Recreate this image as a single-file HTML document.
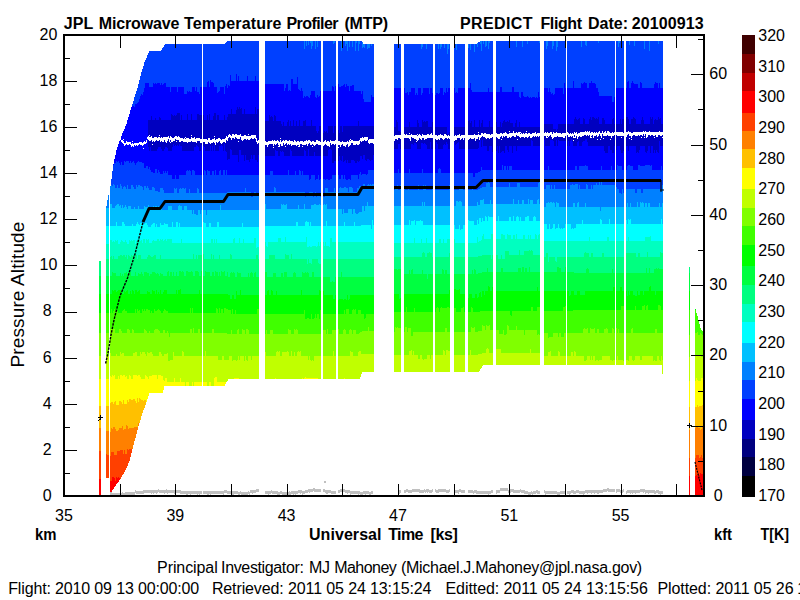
<!DOCTYPE html>
<html><head><meta charset="utf-8"><title>MTP</title>
<style>
html,body{margin:0;padding:0;background:#fff;}
body{width:800px;height:600px;overflow:hidden;font-family:"Liberation Sans",sans-serif;}
svg{display:block;}
svg text{font-family:"Liberation Sans",sans-serif;fill:#000;}
</style></head><body>
<svg width="800" height="600" viewBox="0 0 800 600">
<rect width="800" height="600" fill="#fff"/>
<g shape-rendering="crispEdges">
<path fill="#0040ff" d="M99,261h2V495h-2ZM106,206h1v-6h1v-5h1V478h-3ZM110,186h1v-7h1v-8h1v-7h1v-5h1v-4h1v-5h1v-3h1v-3h1v-3h1v-3h1v-2h1v-3h1v-2h1v-2h1v-3h1v-2h1v-4h1v-3h1v-3h1v-4h1v-3h1v-3h1v-3h1v-4h1v-3h1v-3h1v-3h1v-4h1v-4h1v-4h1v-4h1v-3h1v-3h1v-4h1v-2h1v-2h1v-3h1v-2h1v-2h12v-1h1v-2h1v-1h1v-2h1v-1h60v-1h1v-1h1v-1h135v1h1v2h11V372h-12v2h-1v3h-1v2h-132v2h-1v1h-1v2h-1v2h-61v4h-1v3h-14v3h-1v3h-1v3h-1v3h-1v3h-1v2h-1v3h-1v3h-1v4h-1v3h-1v3h-1v4h-1v4h-1v4h-1v3h-1v4h-1v4h-1v4h-1v4h-1v4h-1v2h-1v3h-1v2h-1v2h-1v2h-1v2h-1v1h-1v2h-1v2h-1v1h-1v2h-1v1h-1v1h-1v2h-1v1h-1v2h-1v1h-1v2h-1v3h-1ZM394,44h83v-1h1v-1h2v-1h183V374h-1v-9h-179v1h-1v2h-1v1h-1v2h-1v1h-85ZM689,267h1V495h-1ZM695,309h1v4h1v3h1v4h1v4h1v4h1v2h1v1h1v2h1V495h-9Z"/>
<path fill="#0000ff" d="M99,261h2V495h-2ZM106,206h1v-6h1v-5h1V478h-3ZM110,186h1v-7h1v-8h1v-7h1v-5h1v-4h1v-5h1v-3h1v-3h1v-3h1v-3h1v-2h1v-3h1v-2h1v-2h1v-3h1v-2h1v-4h1v-3h1v-3h1v-4h1v-3h1v-1h2v1h1v-3h2v-1h1v-1h1v-3h1v-3h1v-2h1v1h1v-3h1v-4h1v-5h4v4h4v-4h1v1h1v-1h1v1h1v-1h3v2h1v-2h1v2h1v-1h1v-1h2v4h4v5h1v-5h6v5h1v-5h6v7h3v-3h1v1h1v-1h1v1h2v-5h3v4h1v-4h1v5h2v2h1v-7h7v-5h1v-1h1v6h1v-7h1v2h2v1h1v4h3v6h1v-1h1v-1h1v-4h4v7h1v-8h1v-2h1v4h1v-3h1v1h1v-11h1v6h5v-7h1v7h1v-5h1v5h8v-5h1v5h7v-5h1v5h4v1h2v1h2v1h20v7h1v-3h1v-4h2v7h1v-1h1v1h1v-12h2v5h4v-7h1v12h1v1h1v1h1v-3h1v3h1v7h1v-2h1v1h1v-1h2v1h1v1h1v-3h1v-4h4v6h1v1h1v-3h1v2h1v-1h1v-5h12v-5h1v1h1v4h1v-5h1v-2h1v2h1v-2h1v3h2v-1h2v-1h1v-1h1v3h1v-3h1v2h2v5h1v-5h2v-1h2v6h7v3h1v-3h1v8h1v3h7v-7h1v2h2V372h-12v2h-1v3h-1v2h-132v2h-1v1h-1v2h-1v2h-61v4h-1v3h-14v3h-1v3h-1v3h-1v3h-1v3h-1v2h-1v3h-1v3h-1v4h-1v3h-1v3h-1v4h-1v4h-1v4h-1v3h-1v4h-1v4h-1v4h-1v4h-1v4h-1v2h-1v3h-1v2h-1v2h-1v2h-1v2h-1v1h-1v2h-1v2h-1v1h-1v2h-1v1h-1v1h-1v2h-1v1h-1v2h-1v1h-1v2h-1v3h-1ZM394,88h11v5h2v-1h1v3h1v-3h2v-4h4v7h1v-2h1v2h1v-7h3v7h1v-2h1v-5h6v6h1v-6h2v5h1v-1h1v1h1v2h1v-2h2v1h1v-1h1v-5h3v7h1v-3h1v1h1v-5h1v4h1v-4h7v5h1v-1h1v1h1v-5h8v-6h1v6h3v-5h1v7h1v2h16v-4h1v4h11v-5h2v5h10v-5h2v5h5v5h1v1h1v-6h2v4h1v1h3v-1h1v1h1v1h1v-1h1v1h1v-1h3v1h1v-1h1v1h1v-6h1v5h3v-7h1v-1h1v-1h4v4h1v-4h1v4h1v2h1v-1h1v2h1v-1h1v-6h8v6h1v-11h1v5h8v-7h1v7h7v-5h1v1h1v-1h1v-1h1v1h2v5h2v-5h2v-2h1v2h3v1h1v4h2v4h1v4h13v6h2v-5h1v-5h1v-4h11v-6h1v-1h1v7h2v-5h1v-2h1v2h1v1h4v4h2v-6h1v1h1v5h12v-4h1v-2h1v1h2v5h1v-5h1v5h3V374h-1v-9h-179v1h-1v2h-1v1h-1v2h-1v1h-85ZM689,267h1V495h-1ZM695,309h1v4h1v3h1v4h1v4h1v4h1v2h1v1h1v2h1V495h-9Z"/>
<path fill="#0000c0" d="M99,261h2V495h-2ZM106,206h1v-6h1v-5h1V478h-3ZM110,186h1v-7h1v-8h1v-7h1v-5h1v-4h1v-5h32v-30h3v-4h1v4h3v-2h1v2h3v-3h1v1h1v2h10v-6h1v1h1v1h1v-1h1v1h1v-1h1v-2h3v7h1v-5h1v5h5v-6h1v6h3v-6h1v6h5v-6h2v1h5v5h3v-5h1v5h1v-6h1v6h3v-4h1v-3h2v7h1v-5h2v5h5v-5h1v5h2v-3h1v-3h3v-5h1v5h4v-4h1v-3h1v2h1v-2h1v2h1v-1h1v6h2v-5h1v5h10v-7h1v7h1v-5h2v2h1v5h1v1h1v-5h1v3h1v1h1v5h4v-6h1v2h1v-1h1v1h1v4h1v-6h1v1h1v5h5v3h1v2h1v-4h1v4h3v-4h1v-2h1v6h1v-5h1v5h2v-6h1v6h2v-5h1v5h2v-6h1v6h3v-5h2v-1h1v6h5v-6h1v6h4v5h1v2h1v-2h1v-5h4v7h1v-2h1v1h1v-1h1v2h1v-7h5v7h1v-7h2v5h1v-1h2v3h1v-7h2v6h1v-6h15v-5h1v5h15V372h-12v2h-1v3h-1v2h-132v2h-1v1h-1v2h-1v2h-61v4h-1v3h-14v3h-1v3h-1v3h-1v3h-1v3h-1v2h-1v3h-1v3h-1v4h-1v3h-1v3h-1v4h-1v4h-1v4h-1v3h-1v4h-1v4h-1v4h-1v4h-1v4h-1v2h-1v3h-1v2h-1v2h-1v2h-1v2h-1v1h-1v2h-1v2h-1v1h-1v2h-1v1h-1v1h-1v2h-1v1h-1v2h-1v1h-1v2h-1v3h-1ZM394,127h2v-7h1v2h1v9h2v1h1v-5h2v-5h1v5h5v-5h1v5h7v-7h1v3h1v4h3v-7h1v2h1v-1h1v1h1v-1h2v6h4v-5h1v-2h1v2h1v5h12v7h2v-2h1v-11h1v-1h1v2h1v5h13v-6h3v-1h1v3h1v-2h1v6h2v-7h1v7h4v-7h1v7h1v-4h1v-3h1v7h6v-6h1v6h3v-6h1v2h2v-1h1v5h3v-5h1v5h1v-4h1v-2h1v-1h1v2h2v-1h1v1h1v-2h1v3h3v4h2v-4h1v-3h1v7h2v-5h1v5h21v-1h2v-1h1v-1h9v5h3v2h1v-2h1v-5h16v-5h1v-2h1v2h1v1h1v-1h1v-1h1v6h3v-6h1v1h1v5h4v-5h1v-2h1v3h1v-3h2v1h1v1h1v-1h1v1h1v-2h1v7h3v-6h2v2h1v4h7v-5h1v-1h1v6h6v-5h1v5h1v-5h2v5h1v-7h3v2h1v5h2v-5h2v-2h1v1h1v1h1v5h5v-4h1v-3h1v3h1v4h6v-7h1v2h1v-2h1v7h1v-4h1v-1h1v1h2v-3h1v2h1v-1h1v6h2V374h-1v-9h-179v1h-1v2h-1v1h-1v2h-1v1h-85ZM689,267h1V495h-1ZM695,309h1v4h1v3h1v4h1v4h1v4h1v2h1v1h1v2h1V495h-9Z"/>
<path fill="#0000ff" d="M99,261h2V495h-2ZM106,206h1v-6h1v-5h1V478h-3ZM110,186h1v-7h1v-8h1v-7h1v-5h1v-4h1v-5h32v-3h1v4h1v-4h1v4h6v-2h1v-2h3v2h1v2h2v-2h1v-2h2v1h1v3h4v-4h1v-3h1v2h1v-1h1v1h1v-1h1v1h1v-2h1v2h2v5h12v-4h2v-2h1v1h1v1h1v4h2v-6h1v-1h1v2h1v1h1v4h5v-5h1v5h1v-5h1v5h1v-6h1v6h4v-5h2v-1h1v1h1v5h1v-7h1v7h1v1h1v8h1v-1h2v-10h1v1h1v5h6v7h1v-12h2v5h3v6h1v-6h1v5h3v2h1v-3h1v-4h1v4h1v-4h2v5h2v2h1v-7h4v-3h1v4h12v-6h1v1h2v5h2v-5h1v1h1v-1h1v1h1v4h6v-7h1v2h1v5h12v-6h1v1h1v5h2v-7h1v7h5v-4h1v4h6v-4h1v4h6v-6h1v-1h2v1h1v13h2v-2h3v-5h1v5h1v-5h1v4h1v1h1v-5h1v6h1v-1h1v-1h1v3h1v-3h1v3h3v-3h3v1h1v2h2v-2h1v1h1v-1h1v-5h2v3h1v-4h2v5h1v1h1v-2h2v1h1v1h1v-1h2v-5h1V372h-12v2h-1v3h-1v2h-132v2h-1v1h-1v2h-1v2h-61v4h-1v3h-14v3h-1v3h-1v3h-1v3h-1v3h-1v2h-1v3h-1v3h-1v4h-1v3h-1v3h-1v4h-1v4h-1v4h-1v3h-1v4h-1v4h-1v4h-1v4h-1v4h-1v2h-1v3h-1v2h-1v2h-1v2h-1v2h-1v1h-1v2h-1v2h-1v1h-1v2h-1v1h-1v1h-1v2h-1v1h-1v2h-1v1h-1v2h-1v3h-1ZM394,149h4v-5h2v5h11v-5h2v1h1v-2h2v1h1v5h4v-6h2v1h1v-1h1v1h1v1h1v4h3v-7h1v7h3v-5h1v5h1v-7h1v2h1v5h5v-4h1v-1h1v1h1v-3h1v2h1v5h2v-5h2v1h1v-3h2v3h1v-1h1v-1h1v-1h1v7h19v-1h1v-6h1v-2h1v7h1v-7h1v6h4v5h2v-5h3v6h1v-6h3v5h1v-5h1v7h1v-7h1v7h1v-1h1v-1h2v2h1v-7h2v4h1v2h1v-6h3v7h1v-7h3v5h1v-5h14v-6h1v1h1v5h10v-5h1v-1h1v6h5v-6h3v1h1v5h2v-6h1v6h1v-6h1v1h7v5h2v-5h1v5h1v-5h1v-2h1v3h1v4h4v-4h1v-1h1v5h3v-4h1v-1h2v-2h2v3h1v4h16v5h1v2h3v-7h2v4h2v3h2v-7h1v4h2v-4h3v4h1v3h2v-2h1v-1h1v1h1v-5h2v5h1v-5h7v7h1v-1h1v1h1v-3h1v-4h5v6h1v1h1v-2h1v-5h2v7h1v-7h2v7h1v-3h1v3h1v-3h1v2h1v1h1v-12h1v5h3V374h-1v-9h-179v1h-1v2h-1v1h-1v2h-1v1h-85ZM689,267h1V495h-1ZM695,309h1v4h1v3h1v4h1v4h1v4h1v2h1v1h1v2h1V495h-9Z"/>
<path fill="#0040ff" d="M99,261h2V495h-2ZM106,206h1v-6h1v-5h1V478h-3ZM110,186h1v-7h1v-8h1v-6h1v-2h2v-2h1v1h1v-1h1v2h1v2h1v-3h1v3h2v-4h1v1h1v-1h3v2h1v-2h1v2h1v-1h1v-1h1v2h1v2h1v-2h1v-1h1v-1h1v1h3v1h2v5h2v-2h2v3h1v-2h1v3h1v2h2v1h2v-4h2v4h1v-3h1v2h1v2h3v-3h1v2h1v-2h1v2h1v-2h1v4h4v4h3v-4h1v4h3v-4h7v-4h1v-1h1v1h1v-1h1v1h1v4h1v-5h2v1h1v4h9v-5h1v1h1v4h1v-5h1v1h2v4h2v-4h2v4h1v-5h1v5h3v-4h1v-1h1v5h2v-5h2v5h1v-5h1v5h34v-5h1v5h8v-4h3v4h15v-5h1v5h6v-4h1v4h3v-5h1v1h1v4h1v-4h1v4h6v5h1v-1h1v-4h4v5h1v-1h2v-4h1v5h1v-1h5v1h1v-1h2v1h2v-1h2v-4h7v4h2v-4h2v4h1v-4h1v4h1v1h2v-1h2v1h1v-5h7v4h1v-5h1v-2h1v3h1v-1h4v1h1v-1h1v-4h6V372h-12v2h-1v3h-1v2h-132v2h-1v1h-1v2h-1v2h-61v4h-1v3h-14v3h-1v3h-1v3h-1v3h-1v3h-1v2h-1v3h-1v3h-1v4h-1v3h-1v3h-1v4h-1v4h-1v4h-1v3h-1v4h-1v4h-1v4h-1v4h-1v4h-1v2h-1v3h-1v2h-1v2h-1v2h-1v2h-1v1h-1v2h-1v2h-1v1h-1v2h-1v1h-1v1h-1v2h-1v1h-1v2h-1v1h-1v2h-1v3h-1ZM394,173h4v-4h1v4h10v-4h1v4h12v-4h1v4h15v-4h1v-1h1v1h1v4h32v4h2v-4h3v-1h2v-1h1v-4h1v3h20v-5h1v5h1v-4h2v4h1v-4h1v4h1v-4h3v4h29v-4h1v4h6v-4h1v4h26v-4h2v4h2v-4h6v-1h1v1h2v4h13v-4h1v4h9v-4h1v4h5v-5h1v1h4v4h5v-4h1v-1h2v1h3v4h5v-5h2v1h5v-1h5v1h1v-1h1v5h9v-4h1v4h1V374h-1v-9h-179v1h-1v2h-1v1h-1v2h-1v1h-85ZM689,267h1V495h-1ZM695,309h1v4h1v3h1v4h1v4h1v4h1v2h1v1h1v2h1V495h-9Z"/>
<path fill="#0080ff" d="M99,261h2V495h-2ZM106,206h1v-6h1v-5h1V478h-3ZM110,186h1v-1h1v1h1v-2h1v1h1v3h2v-3h1v3h2v-4h1v2h1v3h1v-2h1v-1h1v1h1v2h1v-4h1v4h3v-4h2v2h1v2h2v-4h1v2h1v-2h2v1h2v1h1v3h1v-4h2v2h1v-2h1v2h1v2h3v-3h2v1h1v3h3v1h2v-4h3v2h1v3h10v-5h1v1h1v-1h1v5h2v-4h1v-1h1v1h1v-1h2v1h1v-1h1v5h3v-4h1v4h7v-5h1v1h1v4h28v-1h18v-4h1v4h5v5h2v-1h1v-4h2v4h3v-4h15v-5h1v1h1v4h29v5h1v-1h3v-4h4v5h1v-1h1v-4h1v5h1v-1h3v1h1v-5h1v4h1v1h2v-9h3v4h6v-4h1v4h4v-4h1v-1h1v1h3v-1h2v1h2v4h1v-5h3v1h1v4h4v-4h2v-2h3v3h1v-5h2v5h2v-4h1v-1h1v1h1v-1h1v1h1v-1h2V372h-12v2h-1v3h-1v2h-132v2h-1v1h-1v2h-1v2h-61v4h-1v3h-14v3h-1v3h-1v3h-1v3h-1v3h-1v2h-1v3h-1v3h-1v4h-1v3h-1v3h-1v4h-1v4h-1v4h-1v3h-1v4h-1v4h-1v4h-1v4h-1v4h-1v2h-1v3h-1v2h-1v2h-1v2h-1v2h-1v1h-1v2h-1v2h-1v1h-1v2h-1v1h-1v1h-1v2h-1v1h-1v2h-1v1h-1v2h-1v3h-1ZM394,190h1v-4h2v-1h1v5h2v-5h1v1h2v4h1v-4h1v4h3v-4h1v4h9v-5h1v5h4v-5h1v1h1v-1h1v5h6v-4h2v4h15v-5h1v5h9v-4h4v4h9v-4h1v4h5v-1h2v-1h2v-1h4v-4h2v-1h1v1h1v4h19v-4h1v4h7v-4h3v4h18v-4h1v-1h1v1h2v1h1v4h1v1h2v-4h4v4h1v-4h1v4h2v-4h1v4h15v-4h2v-1h1v1h2v-1h3v5h1v-4h1v4h6v-5h1v1h1v4h3v-4h1v4h1v-4h3v-2h1v2h2v-4h1v4h1v-5h1v5h14v2h1v2h2v4h2v1h1v-5h1v4h1v1h1v-5h10v4h2v-4h4v4h2v-4h19v-4h1V374h-1v-9h-179v1h-1v2h-1v1h-1v2h-1v1h-85ZM689,267h1V495h-1ZM695,309h1v4h1v3h1v4h1v4h1v4h1v2h1v1h1v2h1V495h-9Z"/>
<path fill="#00c0ff" d="M99,261h2V495h-2ZM106,208h3V478h-3ZM110,204h2v4h3v-2h1v-1h1v-1h2v2h1v-1h1v3h1v-3h1v3h1v-1h1v-2h1v2h1v2h1v-3h3v3h3v-2h1v2h3v-3h1v3h5v-3h1v1h3v-2h1v2h1v2h2v1h1v-4h1v2h1v-2h2v1h1v-1h1v1h2v1h1v2h6v-4h4v4h6v-4h1v-1h1v1h2v4h2v-4h3v4h5v4h1v-4h1v4h2v1h2v-5h2v4h1v-4h5v5h1v-5h13v-5h1v5h41v-1h3v-5h1v5h15v-5h1v1h1v-1h1v1h2v-1h1v5h11v-4h1v4h5v-5h1v5h6v-4h3v-1h2v1h3v-1h1v1h4v-1h1v1h1v-1h1v5h15v5h1v-5h1v4h4v-4h4v5h1v-5h2v4h1v1h2v-1h1v-1h3v-6h2v5h1v-5h2v-4h1v4h6V372h-12v2h-1v3h-1v2h-132v2h-1v1h-1v2h-1v2h-61v4h-1v3h-14v3h-1v3h-1v3h-1v3h-1v3h-1v2h-1v3h-1v3h-1v4h-1v3h-1v3h-1v4h-1v4h-1v4h-1v3h-1v4h-1v4h-1v4h-1v4h-1v4h-1v2h-1v3h-1v2h-1v2h-1v2h-1v2h-1v1h-1v2h-1v2h-1v1h-1v2h-1v1h-1v1h-1v2h-1v1h-1v2h-1v1h-1v2h-1v3h-1ZM394,206h9v-4h1v4h18v-4h1v4h1v-4h1v4h31v-5h2v1h1v-1h2v1h1v4h15v-4h1v3h2v-5h3v-1h1v5h6v-4h1v4h4v-5h1v5h17v-5h1v5h4v-4h1v4h3v-4h2v4h4v-5h1v5h1v-4h3v4h4v-4h1v-1h1v5h2v1h1v1h2v1h2v-4h2v-1h1v1h1v-1h2v1h1v-1h1v1h1v4h1v-5h1v1h2v4h14v-4h2v4h2v-4h1v-1h1v5h6v-4h1v4h14v4h1v-4h26v-4h1v4h2v-4h1v4h6v-5h1v5h2v-5h1v1h1v-1h1v1h1v4h1v-4h2v4h1v-4h2v4h9v-4h1v4h2v-4h1V374h-1v-9h-179v1h-1v2h-1v1h-1v2h-1v1h-85ZM689,267h1V495h-1ZM695,309h1v4h1v3h1v4h1v4h1v4h1v2h1v1h1v2h1V495h-9Z"/>
<path fill="#00ffff" d="M99,261h2V495h-2ZM106,226h3V478h-3ZM110,226h6v-4h1v4h5v-4h2v2h1v2h7v-2h1v2h3v-2h1v-2h1v2h1v1h1v-2h2v1h1v1h1v-1h1v-1h2v2h1v2h3v-2h1v-1h1v-1h2v4h1v-3h1v3h3v-4h1v2h3v-2h1v1h3v3h4v-5h1v5h3v-5h2v5h1v-4h1v4h23v-5h1v1h2v4h3v-4h2v4h6v-5h2v5h23v-4h1v4h19v-1h34v-4h2v4h7v-4h1v-1h1v1h2v4h1v-4h1v4h15v-5h1v5h17v-4h1v4h9v-4h1v4h6v-1h10v4h1v-9h1v5h1V372h-12v2h-1v3h-1v2h-132v2h-1v1h-1v2h-1v2h-61v4h-1v3h-14v3h-1v3h-1v3h-1v3h-1v3h-1v2h-1v3h-1v3h-1v4h-1v3h-1v3h-1v4h-1v4h-1v4h-1v3h-1v4h-1v4h-1v4h-1v4h-1v4h-1v2h-1v3h-1v2h-1v2h-1v2h-1v2h-1v1h-1v2h-1v2h-1v1h-1v2h-1v1h-1v1h-1v2h-1v1h-1v2h-1v1h-1v2h-1v3h-1ZM394,225h15v-5h1v5h1v-4h3v-1h1v5h1v-4h4v-1h1v1h2v4h29v4h1v1h1v-5h1v4h4v-4h1v5h1v-1h2v-4h4v-4h1v-1h1v1h5v4h3v-5h1v4h1v-6h2v4h1v-4h1v3h2v-5h1v1h1v4h1v-5h1v1h4v-1h1v5h4v-5h1v5h10v-4h2v4h2v-5h1v5h2v-4h1v-1h1v1h1v4h1v-4h1v4h4v-4h2v-1h2v5h4v-4h1v-1h1v1h1v4h5v1h2v1h1v1h3v5h2v-5h1v5h2v-1h1v-4h2v5h1v-1h2v-4h1v4h1v1h1v-1h1v1h1v-1h2v-4h6v5h1v-1h1v1h1v-1h2v-4h6v-4h1v4h17v-5h1v1h1v4h7v-5h1v5h16v-4h1v4h1v-5h1v1h1v-1h1v5h30v-5h1v5h1V374h-1v-9h-179v1h-1v2h-1v1h-1v2h-1v1h-85ZM689,267h1V495h-1ZM695,309h1v4h1v3h1v4h1v4h1v4h1v2h1v1h1v2h1V495h-9Z"/>
<path fill="#00ffc0" d="M99,261h2V495h-2ZM106,244h3V478h-3ZM110,240h2v2h1v-1h1v1h1v-2h1v1h1v-1h1v4h2v-2h1v-2h1v1h1v1h2v-2h1v2h1v2h2v-4h1v1h1v-1h1v1h1v-1h2v4h1v-3h1v-1h2v-1h1v2h1v-1h1v3h1v-4h2v4h1v-4h1v1h1v-1h1v4h3v-2h1v-1h1v1h3v-2h2v2h1v-2h1v1h1v-1h1v2h1v-1h1v-1h1v2h1v-2h5v4h9v-4h1v4h29v-4h2v4h1v-4h1v4h1v-4h1v4h16v-4h1v-1h1v5h4v-5h1v5h3v-4h1v4h10v-5h2v10h1v-1h2v1h1v-5h2v-1h1v4h2v-4h1v4h1v1h1v-5h10v-4h3v4h4v-5h1v5h20v-5h1v10h2v-1h1v1h2v-1h4v1h1v-1h1v-4h1v4h1v-4h1v4h1v1h1v-5h1v4h1v-4h1v4h3v1h1v-9h2v4h42V372h-12v2h-1v3h-1v2h-132v2h-1v1h-1v2h-1v2h-61v4h-1v3h-14v3h-1v3h-1v3h-1v3h-1v3h-1v2h-1v3h-1v3h-1v4h-1v3h-1v3h-1v4h-1v4h-1v4h-1v3h-1v4h-1v4h-1v4h-1v4h-1v4h-1v2h-1v3h-1v2h-1v2h-1v2h-1v2h-1v1h-1v2h-1v2h-1v1h-1v2h-1v1h-1v1h-1v2h-1v1h-1v2h-1v1h-1v2h-1v3h-1ZM394,243h20v-5h1v5h6v-4h1v4h4v-5h1v5h12v-4h2v4h2v-4h1v4h3v-4h3v4h2v-4h1v4h1v-4h1v4h22v-6h1v5h1v-1h2v-1h1v-4h1v-2h1v5h7v-5h2v5h8v-5h2v1h2v4h2v-5h1v1h3v4h2v-4h2v4h1v-5h1v5h6v-4h2v4h3v-4h1v4h1v-4h1v4h4v-5h1v1h1v4h1v-4h1v-1h1v1h1v5h3v1h45v-4h1v4h17v-4h2v4h19v-4h1v4h16v-4h5v-1h1v5h12V374h-1v-9h-179v1h-1v2h-1v1h-1v2h-1v1h-85ZM689,267h1V495h-1ZM695,309h1v4h1v3h1v4h1v4h1v4h1v2h1v1h1v2h1V495h-9Z"/>
<path fill="#00ff80" d="M99,261h2V495h-2ZM106,259h3V478h-3ZM110,257h1v-1h1v3h1v-3h1v3h4v-3h2v-1h2v1h1v-1h2v2h1v-2h1v4h1v-4h1v1h1v1h1v-2h1v1h1v-1h1v4h1v-4h2v4h1v-4h3v4h6v-2h1v-2h2v1h1v1h2v-1h1v-1h2v4h4v-4h1v4h32v-5h1v5h2v-4h1v4h1v-4h4v-1h2v5h7v-5h1v5h1v-4h1v4h5v-4h1v4h10v-5h1v1h1v4h24v-4h2v4h3v-4h1v4h7v-4h6v4h10v-5h1v1h3v4h2v-5h1v5h15v5h1v-5h1v4h2v1h1v-5h6v4h1v1h2v-1h1v-4h52V372h-12v2h-1v3h-1v2h-132v2h-1v1h-1v2h-1v2h-61v4h-1v3h-14v3h-1v3h-1v3h-1v3h-1v3h-1v2h-1v3h-1v3h-1v4h-1v3h-1v3h-1v4h-1v4h-1v4h-1v3h-1v4h-1v4h-1v4h-1v4h-1v4h-1v2h-1v3h-1v2h-1v2h-1v2h-1v2h-1v1h-1v2h-1v2h-1v1h-1v2h-1v1h-1v1h-1v2h-1v1h-1v2h-1v1h-1v2h-1v3h-1ZM394,257h28v-4h1v-1h1v1h1v4h2v-4h2v-1h1v1h2v4h17v-4h1v4h28v-1h4v-1h9v4h1v-4h3v4h1v-4h2v4h3v-4h1v4h3v-8h4v4h10v-5h1v5h4v-4h5v-1h1v1h1v-1h1v1h1v4h8v1h3v1h2v-4h2v9h1v-5h6v4h1v1h1v-5h27v-4h1v-1h1v1h3v4h2v-4h2v4h9v-4h2v4h22v-4h10v4h2v-4h2v4h7v-5h1v5h12v-5h1v1h2V374h-1v-9h-179v1h-1v2h-1v1h-1v2h-1v1h-85ZM689,267h1V495h-1ZM695,309h1v4h1v3h1v4h1v4h1v4h1v2h1v1h1v2h1V495h-9Z"/>
<path fill="#00ff40" d="M99,276h2V495h-2ZM106,276h3V478h-3ZM110,276h2v-4h1v1h3v3h4v-3h1v3h1v-2h1v2h1v-3h2v-1h1v2h1v-2h3v4h4v-4h1v4h2v-3h1v1h2v-2h1v2h1v2h1v-4h3v1h2v3h1v-2h2v-2h3v1h1v1h1v-1h1v1h1v2h1v-3h1v1h2v2h4v-4h1v-1h1v5h1v-4h2v4h1v-4h1v4h2v-4h1v4h2v-5h2v1h1v-1h1v1h1v4h2v-5h2v1h3v-1h1v1h1v4h2v-5h3v1h1v4h2v-5h1v5h3v-5h1v1h4v4h2v-4h2v4h1v-5h1v1h2v4h1v-4h1v4h1v-5h1v1h2v-1h1v5h2v-4h1v5h2v-4h1v-1h1v1h1v-1h1v1h1v4h2v-5h1v1h3v4h7v-4h1v4h1v-4h1v-1h1v1h1v4h1v-4h1v-1h1v5h6v-5h1v5h1v-4h1v-1h2v5h6v-4h3v4h5v-4h2v4h1v-5h3v5h6v-4h1v-1h1v1h1v4h6v-5h1v1h2v-1h1v1h1v-1h1v1h1v4h3v-5h2v5h16v5h2v-1h1v1h2v-5h2v4h1v-4h3v-5h1v5h32V372h-12v2h-1v3h-1v2h-132v2h-1v1h-1v2h-1v2h-61v4h-1v3h-14v3h-1v3h-1v3h-1v3h-1v3h-1v2h-1v3h-1v3h-1v4h-1v3h-1v3h-1v4h-1v4h-1v4h-1v3h-1v4h-1v4h-1v4h-1v4h-1v4h-1v2h-1v3h-1v2h-1v2h-1v2h-1v2h-1v1h-1v2h-1v2h-1v1h-1v2h-1v1h-1v1h-1v2h-1v1h-1v2h-1v1h-1v2h-1v3h-1ZM394,269h3v1h1v-1h4v1h1v4h6v-4h1v4h1v-4h1v-1h1v5h9v-4h1v4h4v5h1v-5h14v-5h1v1h1v4h1v-4h2v4h25v-4h1v4h1v-5h1v1h1v4h2v-1h4v-1h5v-4h1v4h7v-4h1v4h5v-4h2v4h15v-4h3v4h1v-5h2v5h1v-4h2v4h2v-5h1v5h27v-5h2v1h2v4h4v-5h1v5h8v1h12v-4h1v-1h1v1h1v4h23v-4h1v4h33v-5h1v5h2v-5h1v5h4v-4h2v-1h1v1h1v-1h1v1h4V374h-1v-9h-179v1h-1v2h-1v1h-1v2h-1v1h-85ZM689,273h1V495h-1ZM695,309h1v4h1v3h1v4h1v4h1v4h1v2h1v1h1v2h1V495h-9Z"/>
<path fill="#00ff00" d="M99,294h2V495h-2ZM106,294h3V478h-3ZM110,294h2v-4h1v1h1v-1h2v2h1v-1h1v-1h3v2h1v2h2v-3h1v1h1v-1h1v-1h1v4h2v-3h1v3h1v-4h1v1h1v3h1v-4h2v2h1v-1h1v-1h1v4h7v-3h1v1h2v2h2v-4h1v1h2v3h1v-4h1v4h1v-2h1v2h1v-4h1v4h2v-2h1v-2h3v4h9v-4h1v4h1v-4h2v-1h1v5h18v-4h1v4h28v1h2v4h2v-4h2v4h2v-8h1v4h3v-5h1v5h26v-4h1v-1h1v5h2v-5h1v1h1v4h3v-4h1v4h24v-5h1v5h17v-5h1v1h2v-1h1v1h1v4h9v4h2v-4h2v4h1v1h1v-1h4v1h1v-1h2v1h1v-5h1v5h1v-1h1v-4h24V372h-12v2h-1v3h-1v2h-132v2h-1v1h-1v2h-1v2h-61v4h-1v3h-14v3h-1v3h-1v3h-1v3h-1v3h-1v2h-1v3h-1v3h-1v4h-1v3h-1v3h-1v4h-1v4h-1v4h-1v3h-1v4h-1v4h-1v4h-1v4h-1v4h-1v2h-1v3h-1v2h-1v2h-1v2h-1v2h-1v1h-1v2h-1v2h-1v1h-1v2h-1v1h-1v1h-1v2h-1v1h-1v2h-1v1h-1v2h-1v3h-1ZM394,294h5v5h1v-1h1v-4h1v4h2v-4h45v-4h2v4h3v-5h2v1h3v-1h1v5h7v4h2v-4h3v4h3v-4h2v4h1v-1h1v-4h1v-1h1v5h1v-6h2v4h1v-4h3v-5h1v1h1v4h2v-4h1v-1h1v1h1v-1h1v5h41v-4h1v4h31v5h1v-1h1v-4h3v4h3v-4h3v4h5v-4h28v-4h3v4h4v-4h2v4h2v4h1v-4h2v5h1v-5h1v4h1v-4h3v4h2v1h2v-5h1v4h2v-4h3v4h1v-4h5v-4h1v-1h1v5h4v4h1v-4h7V374h-1v-9h-179v1h-1v2h-1v1h-1v2h-1v1h-85ZM689,291h1V495h-1ZM695,309h1v4h1v3h1v4h1v4h1v4h1v2h1v1h1v2h1V495h-9Z"/>
<path fill="#40ff00" d="M99,313h2V495h-2ZM106,313h3V478h-3ZM110,313h1v-4h1v4h1v-2h1v-2h1v1h1v-1h1v2h1v2h4v-2h1v-1h1v-1h1v2h2v2h8v-4h1v4h1v-4h1v2h1v-1h1v3h2v-4h1v2h1v-2h1v2h1v-2h2v1h2v3h1v-2h1v2h2v-4h1v2h2v-1h1v-1h1v1h1v1h1v2h2v-2h1v-2h1v1h1v1h2v2h22v-5h1v5h1v-5h1v5h23v-5h1v1h1v4h1v-5h1v5h1v-4h2v4h1v-5h2v1h2v1h3v4h1v-5h1v5h2v-4h1v4h21v-5h2v5h2v-4h1v4h42v-4h1v9h2v-1h2v1h2v-5h1v5h2v-1h1v-4h1v4h1v-4h2v5h1v-9h3v4h21v-4h1v4h1v-5h3v5h3v-4h1v-1h1v1h1v-1h1v5h2v-4h3v4h3v5h1v-1h1v-4h8V372h-12v2h-1v3h-1v2h-132v2h-1v1h-1v2h-1v2h-61v4h-1v3h-14v3h-1v3h-1v3h-1v3h-1v3h-1v2h-1v3h-1v3h-1v4h-1v3h-1v3h-1v4h-1v4h-1v4h-1v3h-1v4h-1v4h-1v4h-1v4h-1v4h-1v2h-1v3h-1v2h-1v2h-1v2h-1v2h-1v1h-1v2h-1v2h-1v1h-1v2h-1v1h-1v1h-1v2h-1v1h-1v2h-1v1h-1v2h-1v3h-1ZM394,312h12v-5h1v5h7v-4h1v4h21v-4h1v-1h1v1h1v4h1v-4h1v-1h1v1h5v-1h2v1h2v-1h2v1h3v4h5v-4h2v-1h1v5h7v-5h1v1h1v4h7v-1h30v4h1v1h1v-5h19v-4h2v4h4v-4h4v4h1v-4h2v4h19v-4h2v-1h1v5h7v-1h48v-4h3v4h11v-4h1v4h6v-4h2v-1h1v5h1v-4h1v-1h1v5h10v-5h2v1h1v4h2V374h-1v-9h-179v1h-1v2h-1v1h-1v2h-1v1h-85ZM689,310h1V495h-1ZM695,310h1v3h1v3h1v4h1v4h1v4h1v2h1v1h1v2h1V495h-9Z"/>
<path fill="#80ff00" d="M99,333h2V495h-2ZM106,333h3V478h-3ZM110,329h5v4h4v-4h2v2h1v2h5v-4h2v1h1v3h2v-4h1v1h1v3h10v-4h1v1h1v1h1v2h2v-2h1v2h4v-3h1v-1h3v1h1v1h1v2h3v-3h2v3h2v-2h1v2h1v4h1v-4h20v-4h2v4h1v-5h1v5h4v-4h2v4h12v-4h2v4h13v1h4v-4h1v4h5v-4h1v-1h1v5h3v-5h1v1h2v4h1v-5h2v1h1v4h10v-4h1v4h1v-4h1v4h4v-4h1v4h3v-4h3v4h15v-5h1v1h2v4h3v-5h1v1h1v-1h1v1h1v4h23v-4h1v-1h1v1h3v4h1v-5h1v5h4v-4h6v-1h1v5h4v-4h1v-1h1v1h1v4h3v-4h1v-1h1v1h1v4h1v-4h3v4h3v-1h1v-1h2v-1h6v-4h1v4h5V372h-12v2h-1v3h-1v2h-132v2h-1v1h-1v2h-1v2h-61v4h-1v3h-14v3h-1v3h-1v3h-1v3h-1v3h-1v2h-1v3h-1v3h-1v4h-1v3h-1v3h-1v4h-1v4h-1v4h-1v3h-1v4h-1v4h-1v4h-1v4h-1v4h-1v2h-1v3h-1v2h-1v2h-1v2h-1v2h-1v1h-1v2h-1v2h-1v1h-1v2h-1v1h-1v1h-1v2h-1v1h-1v2h-1v1h-1v2h-1v3h-1ZM394,332h1v-5h1v1h1v-1h1v1h4v4h3v-5h2v5h1v-4h3v8h2v-4h32v-4h2v4h24v-5h1v1h2v-1h1v5h3v-1h4v-6h1v1h2v4h1v-5h1v1h2v-1h1v5h9v4h4v-4h1v5h2v-1h1v-9h1v1h1v4h7v-4h1v4h7v5h1v-5h12v5h1v-1h1v1h1v-5h1v1h1v1h2v1h4v5h1v-1h4v-4h5v4h1v-4h2v4h3v-4h19v-4h1v-1h1v1h2v-1h1v5h2v-5h1v1h3v-1h1v5h2v-4h2v4h5v-4h2v-1h1v1h1v4h4v-5h1v1h1v4h1v-4h1v-1h1v5h1v-4h1v4h12v-4h1v-1h1v5h22v-4h2v4h6V374h-1v-9h-179v1h-1v2h-1v1h-1v2h-1v1h-85ZM689,335h1V495h-1ZM695,333h2v-1h1v3h2v-2h1v1h1v1h1v-1h1V495h-9Z"/>
<path fill="#c0ff00" d="M99,356h2V495h-2ZM106,356h3V478h-3ZM110,353h1v3h5v-2h1v2h3v-4h1v2h1v-1h2v3h9v-3h2v-1h2v4h3v-4h1v2h1v-2h3v2h1v2h1v-4h1v1h2v-1h2v2h1v2h6v-4h2v2h1v2h2v-2h3v-1h1v8h2v-1h3v-8h1v4h8v-5h1v1h1v4h21v-5h1v5h12v4h4v-4h2v4h5v-4h3v5h1v-1h3v1h1v-1h1v-4h1v4h1v-4h4v5h1v-5h1v4h1v1h1v-5h3v4h1v-4h10v-4h4v4h10v-4h1v-1h1v1h1v-1h1v5h2v-4h5v-1h1v1h1v4h2v-5h1v5h2v-4h1v4h2v-4h1v-1h1v1h1v-1h1v5h7v4h1v-4h1v4h1v1h1v-1h1v1h1v-5h19v-5h1v5h16v-5h1v1h2v4h5v-4h1v-1h2v3h13V372h-12v2h-1v3h-1v2h-132v2h-1v1h-1v2h-1v2h-61v4h-1v3h-14v3h-1v3h-1v3h-1v3h-1v3h-1v2h-1v3h-1v3h-1v4h-1v3h-1v3h-1v4h-1v4h-1v4h-1v3h-1v4h-1v4h-1v4h-1v4h-1v4h-1v2h-1v3h-1v2h-1v2h-1v2h-1v2h-1v1h-1v2h-1v2h-1v1h-1v2h-1v1h-1v1h-1v2h-1v1h-1v2h-1v1h-1v2h-1v3h-1ZM394,355h15v-4h2v-1h1v5h1v-4h1v4h4v4h2v-4h2v4h1v1h1v-1h3v-4h3v4h1v-4h12v-5h1v1h1v4h1v-5h2v1h3v-1h1v5h18v-5h1v5h7v-1h4v-1h4v-4h1v-1h1v1h1v4h7v-4h5v4h29v-4h1v4h9v-4h1v1h1v-1h1v6h1v1h4v-4h2v-1h1v5h7v-5h1v1h1v4h11v-4h2v4h1v-5h1v1h1v4h8v5h2v-1h1v-4h3v4h1v-4h1v4h1v-4h2v5h1v-1h2v1h1v-1h3v-4h8v4h2v1h1v-1h2v1h1v-1h1v-4h1v4h5v1h1v-5h2v4h2v1h1v-5h3v4h1v1h1v-1h1v-4h5v4h2v-4h11v5h1v-1h1v1h2v-5h2v4h1v1h1v-5h1v4h1V374h-1v-9h-179v1h-1v2h-1v1h-1v2h-1v1h-85ZM689,357h1V495h-1ZM695,356h4v-1h2v2h2v-2h1V495h-9Z"/>
<path fill="#ffff00" d="M99,379h2V495h-2ZM106,379h3V478h-3ZM110,376h1v1h1v-2h1v1h1v-1h1v4h3v-3h1v3h1v-4h2v1h1v-1h2v2h1v-1h1v3h2v-4h1v1h1v3h2v-4h4v1h1v-1h2v2h1v2h4v-4h1v1h1v1h1v2h1v-3h3v-1h5v4h1v-4h3v1h2v4h1v1h1v-3h2v4h7v-4h1v4h5v-4h1v4h4v4h1v-4h3v4h3v-4h1v4h1v-4h13v4h2v-4h2v4h3v-8h1v-1h2v5h10v-1h1v-2h6v-1h5v1h36v-1h1v1h26v-1h1v1h1v-1h1v-1h1v1h12v1h26v-1h1v1h15v-2h1v-3h1v-2h12V372h-12v2h-1v3h-1v2h-132v2h-1v1h-1v2h-1v2h-61v4h-1v3h-14v3h-1v3h-1v3h-1v3h-1v3h-1v2h-1v3h-1v3h-1v4h-1v3h-1v3h-1v4h-1v4h-1v4h-1v3h-1v4h-1v4h-1v4h-1v4h-1v4h-1v2h-1v3h-1v2h-1v2h-1v2h-1v2h-1v1h-1v2h-1v2h-1v1h-1v2h-1v1h-1v1h-1v2h-1v1h-1v2h-1v1h-1v2h-1v3h-1ZM689,381h1V495h-1ZM695,381h1v-3h1v2h1v1h3v-3h2v2h1V495h-9Z"/>
<path fill="#ffc000" d="M99,406h2V495h-2ZM106,406h3V478h-3ZM110,403h1v-1h2v2h1v-2h1v-1h1v4h3v-4h2v1h1v2h1v-4h1v4h3v-4h1v2h1v-3h2v1h2v-1h2v2h1v2h1v-5h1v4h1v-4h1v1h1v1h2v1h1v-1h2v2h1v-3h1v-3h1v-3h14v-3h1v-4h61v-2h1v-2h1v-1h1v-2h132v-2h1v-3h1v-2h12V372h-12v2h-1v3h-1v2h-132v2h-1v1h-1v2h-1v2h-61v4h-1v3h-14v3h-1v3h-1v3h-1v3h-1v3h-1v2h-1v3h-1v3h-1v4h-1v3h-1v3h-1v4h-1v4h-1v4h-1v3h-1v4h-1v4h-1v4h-1v4h-1v4h-1v2h-1v3h-1v2h-1v2h-1v2h-1v2h-1v1h-1v2h-1v2h-1v1h-1v2h-1v1h-1v1h-1v2h-1v1h-1v2h-1v1h-1v2h-1v3h-1ZM689,407h1V495h-1ZM695,407h2v-2h1v2h1v-1h3v-1h2V495h-9Z"/>
<path fill="#ff8000" d="M99,428h2V495h-2ZM106,431h3V478h-3ZM110,432h1v-4h1v1h1v-2h2v2h1v2h2v-1h1v-2h3v-2h1v4h1v-1h2v-4h1v1h1v3h1v-1h5v-1h4v-4h2v-3h1v-4h1v-3h1v-3h1v-2h1v-3h1v-3h1v-3h1v-3h1v-3h14v-3h1v-4h61v-2h1v-2h1v-1h1v-2h132v-2h1v-3h1v-2h12V372h-12v2h-1v3h-1v2h-132v2h-1v1h-1v2h-1v2h-61v4h-1v3h-14v3h-1v3h-1v3h-1v3h-1v3h-1v2h-1v3h-1v3h-1v4h-1v3h-1v3h-1v4h-1v4h-1v4h-1v3h-1v4h-1v4h-1v4h-1v4h-1v4h-1v2h-1v3h-1v2h-1v2h-1v2h-1v2h-1v1h-1v2h-1v2h-1v1h-1v2h-1v1h-1v1h-1v2h-1v1h-1v2h-1v1h-1v2h-1v3h-1ZM689,430h1V495h-1ZM695,428h1v-1h2v1h2v2h1v-1h1v-2h1v3h1V495h-9Z"/>
<path fill="#ff4000" d="M99,451h2V495h-2ZM106,454h1v1h2V478h-3ZM110,456h1v-4h3v3h3v-4h3v-1h3v4h1v-4h1v4h2v-5h1v1h1v-1h4v-4h1v-4h1v-3h1v-4h1v-4h1v-4h1v-3h1v-3h1v-4h1v-3h1v-3h1v-2h1v-3h1v-3h1v-3h1v-3h1v-3h14v-3h1v-4h61v-2h1v-2h1v-1h1v-2h132v-2h1v-3h1v-2h12V372h-12v2h-1v3h-1v2h-132v2h-1v1h-1v2h-1v2h-61v4h-1v3h-14v3h-1v3h-1v3h-1v3h-1v3h-1v2h-1v3h-1v3h-1v4h-1v3h-1v3h-1v4h-1v4h-1v4h-1v3h-1v4h-1v4h-1v4h-1v4h-1v4h-1v2h-1v3h-1v2h-1v2h-1v2h-1v2h-1v1h-1v2h-1v2h-1v1h-1v2h-1v1h-1v1h-1v2h-1v1h-1v2h-1v1h-1v2h-1v3h-1ZM689,458h1V495h-1ZM695,458h1v-3h3v3h1v-1h1v-2h1v3h1v-3h1V495h-9Z"/>
<path fill="#ff0000" d="M99,479h2V495h-2ZM110,481h2v-4h2v1h1v3h1v-4h1v1h1v-1h1v1h1v1h1v-2h1v-2h1v-1h1v-2h1v-2h1v-2h1v-2h1v-3h1v-2h1v-4h1v-4h1v-4h1v-4h1v-4h1v-3h1v-4h1v-4h1v-4h1v-3h1v-3h1v-4h1v-3h1v-3h1v-2h1v-3h1v-3h1v-3h1v-3h1v-3h14v-3h1v-4h61v-2h1v-2h1v-1h1v-2h132v-2h1v-3h1v-2h12V372h-12v2h-1v3h-1v2h-132v2h-1v1h-1v2h-1v2h-61v4h-1v3h-14v3h-1v3h-1v3h-1v3h-1v3h-1v2h-1v3h-1v3h-1v4h-1v3h-1v3h-1v4h-1v4h-1v4h-1v3h-1v4h-1v4h-1v4h-1v4h-1v4h-1v2h-1v3h-1v2h-1v2h-1v2h-1v2h-1v1h-1v2h-1v2h-1v1h-1v2h-1v1h-1v1h-1v2h-1v1h-1v2h-1v1h-1v2h-1v3h-1ZM689,476h1V495h-1ZM695,476h1v-1h1v1h1v-3h1v2h1v-2h1v1h2v2h1V495h-9Z"/>
<path fill="#0080ff" d="M304,41h1v8h-1zM306,41h1v5h-1zM308,41h1v4h-1zM310,41h1v2h-1zM311,41h1v8h-1zM312,41h1v5h-1zM315,41h1v8h-1zM317,41h1v6h-1zM333,41h1v3h-1zM334,41h1v2h-1zM341,41h1v10h-1zM342,41h1v2h-1zM345,41h1v5h-1zM346,41h1v3h-1zM347,41h1v10h-1zM349,41h1v6h-1zM352,41h1v6h-1zM355,41h1v10h-1zM356,41h1v2h-1zM358,41h1v10h-1zM359,41h1v3h-1zM362,42h1v6h-1zM363,44h1v3h-1zM364,44h1v4h-1zM367,44h1v5h-1zM368,44h1v4h-1zM369,44h1v4h-1zM371,44h1v2h-1zM421,44h1v5h-1zM422,44h1v3h-1zM426,44h1v5h-1zM438,44h1v5h-1zM440,44h1v5h-1zM441,44h1v3h-1zM444,44h1v4h-1zM447,44h1v10h-1zM448,44h1v5h-1zM456,44h1v6h-1zM468,44h1v4h-1zM470,44h1v6h-1zM474,44h1v8h-1zM477,43h1v4h-1zM480,41h1v3h-1zM481,41h1v10h-1zM483,41h1v3h-1zM485,41h1v6h-1zM486,41h1v5h-1zM488,41h1v8h-1zM489,41h1v2h-1zM493,41h1v2h-1zM494,41h1v3h-1zM516,41h1v6h-1zM522,41h1v6h-1zM527,41h1v3h-1zM539,41h1v2h-1zM546,41h1v8h-1zM547,41h1v5h-1zM552,41h1v8h-1zM553,41h1v5h-1zM556,41h1v10h-1zM557,41h1v6h-1zM581,41h1v6h-1zM585,41h1v4h-1zM586,41h1v5h-1zM598,41h1v2h-1zM618,41h1v6h-1zM619,41h1v2h-1zM629,41h1v4h-1zM634,41h1v5h-1zM644,41h1v8h-1zM649,41h1v10h-1zM658,41h1v3h-1z"/>
<path fill="#fff" d="M120,137h1v3h-1zM121,140h1v2h-1zM122,140h1v3h-1zM123,141h1v3h-1zM123,139h1v1h-1zM124,143h1v3h-1zM125,143h1v2h-1zM126,142h1v2h-1zM126,141h1v1h-1zM127,142h1v3h-1zM128,142h1v3h-1zM129,142h1v2h-1zM130,142h1v3h-1zM131,144h1v3h-1zM132,143h1v3h-1zM132,141h1v1h-1zM133,144h1v3h-1zM134,143h1v2h-1zM135,143h1v3h-1zM136,143h1v2h-1zM137,143h1v3h-1zM138,143h1v2h-1zM139,142h1v2h-1zM140,142h1v3h-1zM141,142h1v3h-1zM142,143h1v3h-1zM143,142h1v3h-1zM143,148h1v1h-1zM144,141h1v3h-1zM145,142h1v2h-1zM146,140h1v3h-1zM147,137h1v2h-1zM148,136h1v4h-1zM149,137h1v4h-1zM149,135h1v1h-1zM150,137h1v4h-1zM151,136h1v4h-1zM152,138h1v4h-1zM152,144h1v1h-1zM153,138h1v3h-1zM154,137h1v5h-1zM155,137h1v4h-1zM156,137h1v3h-1zM157,138h1v3h-1zM158,137h1v4h-1zM159,137h1v3h-1zM159,135h1v1h-1zM160,138h1v4h-1zM161,137h1v4h-1zM162,138h1v4h-1zM163,137h1v5h-1zM164,137h1v3h-1zM165,138h1v4h-1zM165,137h1v1h-1zM166,137h1v5h-1zM166,142h1v1h-1zM167,137h1v4h-1zM168,136h1v3h-1zM169,138h1v4h-1zM170,136h1v4h-1zM170,142h1v1h-1zM171,137h1v5h-1zM172,138h1v4h-1zM173,138h1v3h-1zM174,137h1v4h-1zM175,136h1v3h-1zM176,136h1v4h-1zM176,141h1v1h-1zM177,137h1v3h-1zM178,136h1v4h-1zM179,137h1v5h-1zM180,138h1v4h-1zM181,138h1v3h-1zM182,138h1v3h-1zM183,139h1v3h-1zM184,138h1v4h-1zM185,139h1v3h-1zM185,137h1v1h-1zM186,138h1v4h-1zM187,138h1v5h-1zM188,138h1v4h-1zM189,139h1v3h-1zM190,139h1v3h-1zM191,137h1v4h-1zM191,135h1v1h-1zM192,138h1v4h-1zM193,138h1v4h-1zM194,138h1v4h-1zM194,137h1v1h-1zM195,139h1v3h-1zM196,138h1v5h-1zM197,138h1v3h-1zM198,138h1v3h-1zM199,138h1v3h-1zM200,139h1v4h-1zM201,139h1v4h-1zM202,138h1v5h-1zM202,143h1v1h-1zM203,139h1v3h-1zM204,139h1v3h-1zM205,139h1v5h-1zM206,139h1v5h-1zM207,140h1v4h-1zM208,138h1v4h-1zM209,138h1v5h-1zM210,140h1v4h-1zM211,140h1v3h-1zM212,139h1v4h-1zM213,139h1v3h-1zM214,138h1v5h-1zM214,136h1v1h-1zM215,140h1v5h-1zM216,139h1v3h-1zM217,139h1v4h-1zM218,138h1v4h-1zM219,138h1v3h-1zM220,139h1v4h-1zM221,140h1v4h-1zM222,139h1v4h-1zM223,139h1v3h-1zM224,139h1v3h-1zM225,138h1v5h-1zM226,136h1v4h-1zM227,137h1v4h-1zM228,135h1v3h-1zM229,134h1v3h-1zM230,135h1v3h-1zM231,136h1v4h-1zM232,134h1v4h-1zM233,134h1v4h-1zM234,135h1v4h-1zM235,134h1v3h-1zM236,134h1v4h-1zM237,135h1v4h-1zM238,135h1v4h-1zM238,141h1v1h-1zM239,135h1v4h-1zM240,134h1v3h-1zM241,136h1v4h-1zM242,136h1v5h-1zM243,136h1v4h-1zM244,135h1v4h-1zM245,135h1v4h-1zM246,136h1v4h-1zM247,136h1v3h-1zM248,136h1v4h-1zM248,134h1v1h-1zM249,136h1v4h-1zM250,136h1v3h-1zM251,135h1v3h-1zM252,135h1v4h-1zM253,135h1v4h-1zM254,135h1v3h-1zM255,135h1v4h-1zM256,138h1v4h-1zM257,141h1v3h-1zM258,140h1v3h-1zM259,141h1v3h-1zM260,141h1v5h-1zM261,142h1v4h-1zM261,140h1v1h-1zM262,142h1v4h-1zM263,141h1v5h-1zM264,141h1v3h-1zM265,141h1v4h-1zM266,142h1v3h-1zM267,142h1v5h-1zM268,141h1v4h-1zM269,141h1v3h-1zM270,141h1v3h-1zM271,141h1v3h-1zM272,141h1v3h-1zM272,140h1v1h-1zM273,141h1v5h-1zM273,147h1v1h-1zM274,140h1v4h-1zM275,141h1v4h-1zM276,141h1v3h-1zM277,140h1v3h-1zM278,141h1v4h-1zM278,146h1v1h-1zM279,142h1v5h-1zM280,140h1v4h-1zM280,138h1v1h-1zM281,142h1v4h-1zM282,142h1v4h-1zM282,141h1v1h-1zM283,140h1v3h-1zM284,141h1v4h-1zM285,140h1v4h-1zM285,146h1v1h-1zM286,140h1v3h-1zM287,141h1v4h-1zM288,141h1v3h-1zM289,140h1v5h-1zM290,141h1v3h-1zM291,141h1v5h-1zM292,141h1v4h-1zM293,142h1v3h-1zM294,140h1v5h-1zM295,141h1v4h-1zM296,142h1v4h-1zM297,141h1v4h-1zM298,141h1v4h-1zM298,146h1v1h-1zM299,142h1v5h-1zM300,141h1v3h-1zM301,141h1v3h-1zM302,141h1v4h-1zM302,146h1v1h-1zM303,142h1v3h-1zM304,141h1v4h-1zM305,141h1v4h-1zM306,140h1v4h-1zM307,141h1v5h-1zM308,140h1v4h-1zM309,140h1v3h-1zM310,141h1v4h-1zM311,142h1v3h-1zM312,141h1v3h-1zM312,146h1v1h-1zM313,141h1v4h-1zM314,142h1v4h-1zM315,142h1v3h-1zM316,140h1v4h-1zM317,140h1v4h-1zM318,141h1v4h-1zM319,141h1v4h-1zM320,142h1v3h-1zM321,141h1v4h-1zM322,141h1v4h-1zM323,142h1v4h-1zM324,141h1v4h-1zM325,141h1v3h-1zM325,140h1v1h-1zM326,142h1v3h-1zM327,141h1v5h-1zM328,141h1v5h-1zM329,142h1v5h-1zM330,140h1v3h-1zM331,141h1v4h-1zM332,141h1v3h-1zM333,141h1v3h-1zM334,141h1v4h-1zM335,140h1v4h-1zM336,140h1v3h-1zM337,141h1v4h-1zM338,141h1v4h-1zM338,147h1v1h-1zM339,141h1v4h-1zM340,142h1v5h-1zM341,142h1v3h-1zM342,141h1v3h-1zM343,142h1v4h-1zM344,142h1v4h-1zM345,142h1v5h-1zM346,142h1v3h-1zM347,141h1v3h-1zM348,142h1v5h-1zM349,140h1v5h-1zM349,145h1v1h-1zM350,141h1v4h-1zM350,139h1v1h-1zM351,140h1v3h-1zM352,140h1v3h-1zM353,141h1v4h-1zM354,141h1v4h-1zM355,141h1v4h-1zM356,141h1v3h-1zM357,141h1v4h-1zM358,141h1v4h-1zM359,140h1v4h-1zM360,138h1v3h-1zM361,138h1v4h-1zM362,137h1v4h-1zM363,138h1v3h-1zM364,137h1v3h-1zM365,137h1v4h-1zM366,137h1v4h-1zM367,137h1v3h-1zM368,140h1v3h-1zM369,139h1v5h-1zM370,139h1v4h-1zM371,139h1v4h-1zM372,139h1v4h-1zM373,139h1v5h-1zM394,136h1v5h-1zM395,135h1v4h-1zM396,135h1v4h-1zM397,135h1v5h-1zM398,135h1v3h-1zM399,135h1v3h-1zM400,135h1v4h-1zM401,135h1v5h-1zM402,135h1v4h-1zM403,136h1v4h-1zM404,134h1v4h-1zM405,135h1v3h-1zM406,134h1v4h-1zM407,135h1v3h-1zM408,135h1v3h-1zM409,135h1v4h-1zM409,133h1v1h-1zM410,135h1v5h-1zM410,140h1v1h-1zM411,134h1v3h-1zM412,135h1v3h-1zM413,135h1v3h-1zM414,135h1v4h-1zM415,135h1v4h-1zM416,135h1v5h-1zM416,141h1v1h-1zM417,136h1v5h-1zM417,134h1v1h-1zM418,135h1v5h-1zM419,134h1v4h-1zM420,135h1v4h-1zM421,136h1v4h-1zM422,134h1v4h-1zM423,135h1v3h-1zM424,135h1v5h-1zM425,135h1v4h-1zM426,135h1v4h-1zM427,134h1v4h-1zM428,134h1v4h-1zM429,135h1v3h-1zM430,134h1v4h-1zM431,134h1v4h-1zM431,133h1v1h-1zM432,135h1v3h-1zM433,136h1v5h-1zM434,136h1v3h-1zM435,135h1v4h-1zM436,135h1v5h-1zM437,136h1v4h-1zM438,135h1v4h-1zM439,135h1v5h-1zM440,134h1v4h-1zM441,135h1v3h-1zM442,135h1v4h-1zM443,136h1v4h-1zM444,134h1v5h-1zM445,134h1v4h-1zM446,135h1v3h-1zM447,136h1v3h-1zM448,135h1v3h-1zM449,136h1v3h-1zM450,136h1v4h-1zM451,134h1v3h-1zM452,135h1v3h-1zM453,135h1v3h-1zM453,140h1v1h-1zM454,136h1v5h-1zM455,135h1v5h-1zM456,136h1v4h-1zM457,135h1v3h-1zM458,135h1v3h-1zM459,134h1v4h-1zM460,136h1v4h-1zM461,135h1v4h-1zM462,135h1v3h-1zM463,135h1v5h-1zM464,135h1v3h-1zM465,134h1v5h-1zM466,135h1v5h-1zM467,134h1v5h-1zM468,135h1v5h-1zM469,135h1v4h-1zM470,135h1v3h-1zM471,135h1v4h-1zM472,135h1v4h-1zM473,135h1v4h-1zM474,134h1v4h-1zM475,135h1v5h-1zM475,140h1v1h-1zM476,135h1v4h-1zM477,135h1v4h-1zM478,134h1v3h-1zM478,132h1v1h-1zM479,135h1v5h-1zM480,135h1v3h-1zM481,133h1v4h-1zM482,133h1v3h-1zM483,134h1v3h-1zM484,133h1v4h-1zM485,134h1v4h-1zM485,133h1v1h-1zM486,134h1v5h-1zM487,134h1v4h-1zM488,134h1v4h-1zM489,134h1v5h-1zM490,135h1v3h-1zM491,134h1v4h-1zM492,134h1v3h-1zM493,133h1v4h-1zM494,133h1v3h-1zM495,133h1v4h-1zM496,133h1v4h-1zM497,134h1v4h-1zM498,134h1v5h-1zM499,134h1v5h-1zM500,133h1v4h-1zM501,133h1v3h-1zM501,139h1v1h-1zM502,134h1v4h-1zM503,133h1v3h-1zM504,133h1v4h-1zM505,132h1v4h-1zM506,133h1v3h-1zM507,134h1v4h-1zM508,134h1v4h-1zM509,133h1v4h-1zM509,131h1v1h-1zM510,133h1v5h-1zM511,133h1v4h-1zM512,133h1v3h-1zM513,132h1v4h-1zM513,131h1v1h-1zM514,133h1v4h-1zM515,133h1v4h-1zM516,132h1v3h-1zM517,133h1v3h-1zM517,139h1v1h-1zM518,132h1v4h-1zM519,133h1v4h-1zM519,132h1v1h-1zM520,134h1v4h-1zM520,132h1v1h-1zM521,133h1v4h-1zM522,134h1v3h-1zM523,133h1v4h-1zM524,134h1v4h-1zM525,133h1v4h-1zM526,133h1v4h-1zM526,131h1v1h-1zM527,134h1v4h-1zM528,133h1v4h-1zM529,133h1v3h-1zM530,134h1v4h-1zM531,134h1v4h-1zM532,133h1v4h-1zM533,133h1v3h-1zM534,133h1v4h-1zM535,132h1v4h-1zM536,134h1v3h-1zM537,133h1v3h-1zM538,133h1v4h-1zM539,133h1v3h-1zM540,133h1v4h-1zM540,131h1v1h-1zM541,132h1v4h-1zM542,132h1v4h-1zM543,133h1v3h-1zM544,133h1v3h-1zM545,132h1v4h-1zM546,134h1v4h-1zM546,133h1v1h-1zM547,132h1v4h-1zM547,137h1v1h-1zM548,133h1v4h-1zM549,133h1v3h-1zM550,132h1v3h-1zM551,133h1v4h-1zM551,132h1v1h-1zM552,134h1v5h-1zM553,132h1v5h-1zM553,137h1v1h-1zM554,133h1v4h-1zM555,133h1v4h-1zM556,133h1v4h-1zM556,132h1v1h-1zM557,133h1v3h-1zM558,133h1v4h-1zM559,133h1v4h-1zM560,133h1v4h-1zM561,134h1v3h-1zM562,133h1v4h-1zM563,133h1v5h-1zM564,133h1v5h-1zM565,133h1v3h-1zM566,134h1v3h-1zM567,132h1v3h-1zM568,133h1v4h-1zM569,134h1v3h-1zM570,133h1v3h-1zM571,134h1v3h-1zM572,133h1v3h-1zM573,134h1v4h-1zM573,140h1v1h-1zM574,132h1v3h-1zM574,137h1v1h-1zM575,133h1v5h-1zM576,132h1v4h-1zM577,134h1v5h-1zM578,133h1v4h-1zM579,133h1v3h-1zM580,132h1v5h-1zM581,132h1v5h-1zM582,132h1v4h-1zM583,132h1v4h-1zM584,132h1v3h-1zM585,131h1v4h-1zM586,132h1v4h-1zM587,131h1v4h-1zM588,132h1v4h-1zM589,132h1v3h-1zM589,131h1v1h-1zM590,133h1v5h-1zM591,132h1v4h-1zM591,137h1v1h-1zM592,132h1v3h-1zM593,133h1v5h-1zM594,132h1v4h-1zM595,133h1v3h-1zM596,132h1v3h-1zM597,133h1v4h-1zM597,139h1v1h-1zM598,132h1v4h-1zM599,131h1v3h-1zM600,133h1v3h-1zM600,139h1v1h-1zM601,133h1v5h-1zM602,131h1v3h-1zM603,133h1v3h-1zM603,138h1v1h-1zM604,132h1v4h-1zM605,131h1v5h-1zM606,133h1v3h-1zM607,131h1v4h-1zM608,132h1v4h-1zM608,131h1v1h-1zM609,132h1v4h-1zM610,133h1v3h-1zM610,139h1v1h-1zM611,133h1v5h-1zM612,132h1v4h-1zM613,133h1v3h-1zM614,132h1v3h-1zM615,131h1v3h-1zM616,132h1v3h-1zM617,132h1v4h-1zM618,132h1v4h-1zM619,132h1v4h-1zM620,132h1v4h-1zM621,132h1v4h-1zM621,137h1v1h-1zM622,132h1v4h-1zM623,133h1v3h-1zM624,133h1v4h-1zM625,132h1v4h-1zM625,130h1v1h-1zM626,132h1v5h-1zM627,132h1v3h-1zM628,131h1v3h-1zM629,132h1v4h-1zM629,138h1v1h-1zM630,132h1v4h-1zM631,133h1v5h-1zM631,139h1v1h-1zM632,133h1v3h-1zM633,132h1v3h-1zM634,132h1v3h-1zM635,132h1v4h-1zM636,132h1v4h-1zM637,132h1v4h-1zM638,132h1v3h-1zM639,132h1v4h-1zM640,132h1v3h-1zM641,132h1v3h-1zM641,137h1v1h-1zM642,132h1v4h-1zM643,131h1v3h-1zM644,132h1v4h-1zM644,137h1v1h-1zM645,131h1v3h-1zM646,132h1v5h-1zM646,137h1v1h-1zM647,132h1v5h-1zM648,132h1v3h-1zM649,131h1v4h-1zM650,132h1v4h-1zM651,132h1v3h-1zM652,132h1v3h-1zM653,132h1v4h-1zM654,132h1v4h-1zM654,137h1v1h-1zM655,132h1v3h-1zM656,132h1v5h-1zM657,132h1v5h-1zM658,132h1v3h-1zM659,131h1v4h-1zM660,132h1v4h-1zM661,132h1v4h-1zM662,132h1v3h-1zM662,137h1v1h-1z"/>
<path fill="#c0c0c0" d="M110,492h1v3h-1zM111,492h1v3h-1zM112,493h1v3h-1zM113,493h1v3h-1zM114,493h1v3h-1zM115,493h1v3h-1zM116,493h1v4h-1zM117,493h1v3h-1zM118,493h1v3h-1zM119,493h1v3h-1zM120,493h1v4h-1zM121,493h1v3h-1zM122,492h1v3h-1zM123,493h1v3h-1zM124,493h1v3h-1zM125,492h1v3h-1zM126,492h1v4h-1zM127,492h1v4h-1zM128,492h1v3h-1zM129,492h1v3h-1zM130,492h1v3h-1zM131,492h1v4h-1zM132,492h1v3h-1zM133,492h1v3h-1zM134,492h1v3h-1zM135,490h1v3h-1zM136,491h1v3h-1zM137,491h1v3h-1zM138,491h1v3h-1zM139,491h1v3h-1zM140,491h1v3h-1zM141,491h1v3h-1zM142,491h1v3h-1zM143,490h1v4h-1zM144,490h1v3h-1zM145,490h1v3h-1zM146,490h1v3h-1zM147,490h1v3h-1zM148,490h1v3h-1zM149,490h1v3h-1zM150,490h1v3h-1zM151,490h1v4h-1zM152,490h1v3h-1zM153,490h1v4h-1zM154,490h1v3h-1zM155,490h1v3h-1zM156,490h1v4h-1zM157,490h1v3h-1zM158,489h1v3h-1zM159,490h1v3h-1zM160,490h1v3h-1zM161,490h1v3h-1zM162,490h1v3h-1zM163,490h1v3h-1zM164,490h1v4h-1zM165,490h1v3h-1zM166,489h1v4h-1zM167,490h1v4h-1zM168,490h1v3h-1zM169,490h1v3h-1zM170,490h1v3h-1zM171,490h1v3h-1zM172,490h1v3h-1zM173,490h1v3h-1zM174,490h1v4h-1zM175,490h1v4h-1zM176,490h1v3h-1zM177,490h1v3h-1zM178,490h1v3h-1zM179,490h1v3h-1zM180,490h1v4h-1zM181,491h1v3h-1zM182,491h1v3h-1zM183,491h1v3h-1zM184,491h1v3h-1zM185,491h1v3h-1zM186,491h1v4h-1zM187,491h1v4h-1zM188,491h1v3h-1zM189,491h1v3h-1zM190,491h1v4h-1zM191,491h1v3h-1zM192,491h1v3h-1zM193,491h1v3h-1zM194,491h1v3h-1zM195,491h1v3h-1zM196,491h1v3h-1zM197,491h1v4h-1zM198,491h1v3h-1zM199,491h1v4h-1zM200,491h1v3h-1zM201,491h1v3h-1zM202,491h1v3h-1zM203,491h1v3h-1zM204,491h1v3h-1zM205,491h1v3h-1zM206,491h1v3h-1zM207,491h1v4h-1zM208,491h1v4h-1zM209,491h1v3h-1zM210,491h1v4h-1zM211,491h1v3h-1zM212,491h1v3h-1zM213,491h1v3h-1zM214,491h1v3h-1zM215,491h1v3h-1zM216,491h1v3h-1zM217,491h1v3h-1zM218,491h1v3h-1zM219,491h1v3h-1zM220,491h1v3h-1zM221,491h1v3h-1zM222,491h1v3h-1zM223,491h1v4h-1zM224,490h1v3h-1zM225,490h1v3h-1zM226,490h1v3h-1zM227,491h1v3h-1zM228,491h1v3h-1zM229,491h1v3h-1zM230,491h1v3h-1zM231,491h1v3h-1zM232,491h1v4h-1zM233,491h1v4h-1zM234,491h1v3h-1zM235,491h1v3h-1zM236,491h1v3h-1zM237,491h1v3h-1zM238,492h1v3h-1zM239,492h1v3h-1zM240,491h1v3h-1zM241,492h1v3h-1zM242,492h1v3h-1zM243,492h1v3h-1zM244,492h1v3h-1zM245,492h1v4h-1zM246,492h1v3h-1zM247,492h1v3h-1zM248,491h1v3h-1zM249,492h1v3h-1zM250,490h1v3h-1zM251,490h1v3h-1zM252,490h1v4h-1zM253,490h1v3h-1zM254,490h1v3h-1zM255,490h1v3h-1zM256,489h1v3h-1zM257,489h1v3h-1zM258,489h1v3h-1zM265,491h1v3h-1zM266,491h1v3h-1zM267,491h1v3h-1zM268,491h1v4h-1zM269,491h1v3h-1zM270,491h1v3h-1zM271,490h1v3h-1zM272,491h1v3h-1zM273,491h1v3h-1zM274,491h1v3h-1zM275,491h1v3h-1zM276,491h1v3h-1zM277,491h1v4h-1zM278,492h1v3h-1zM279,492h1v4h-1zM280,491h1v3h-1zM281,491h1v3h-1zM282,492h1v3h-1zM283,492h1v3h-1zM284,492h1v3h-1zM285,492h1v3h-1zM286,492h1v3h-1zM287,492h1v3h-1zM288,492h1v3h-1zM289,491h1v4h-1zM290,492h1v3h-1zM291,491h1v3h-1zM292,491h1v3h-1zM293,491h1v4h-1zM294,491h1v3h-1zM295,491h1v4h-1zM296,491h1v3h-1zM297,491h1v3h-1zM298,490h1v3h-1zM299,490h1v3h-1zM300,490h1v4h-1zM301,490h1v3h-1zM302,491h1v4h-1zM303,491h1v3h-1zM304,491h1v3h-1zM305,490h1v3h-1zM306,490h1v3h-1zM307,490h1v3h-1zM308,489h1v3h-1zM309,489h1v4h-1zM310,489h1v3h-1zM311,489h1v3h-1zM312,489h1v3h-1zM313,488h1v3h-1zM314,488h1v4h-1zM315,489h1v3h-1zM316,489h1v3h-1zM317,489h1v3h-1zM318,489h1v3h-1zM319,489h1v3h-1zM320,489h1v3h-1zM321,489h1v3h-1zM322,489h1v4h-1zM323,489h1v3h-1zM324,489h1v3h-1zM325,490h1v3h-1zM326,490h1v4h-1zM327,490h1v4h-1zM328,490h1v3h-1zM329,490h1v3h-1zM330,490h1v3h-1zM331,491h1v3h-1zM332,491h1v3h-1zM333,491h1v3h-1zM334,491h1v3h-1zM335,491h1v3h-1zM336,491h1v3h-1zM337,491h1v3h-1zM338,490h1v3h-1zM339,490h1v3h-1zM340,489h1v3h-1zM341,489h1v3h-1zM342,489h1v3h-1zM343,489h1v3h-1zM344,489h1v3h-1zM345,490h1v3h-1zM346,490h1v3h-1zM347,490h1v4h-1zM348,490h1v3h-1zM349,490h1v3h-1zM350,491h1v4h-1zM351,491h1v3h-1zM352,491h1v3h-1zM353,491h1v3h-1zM354,491h1v3h-1zM355,491h1v3h-1zM356,491h1v3h-1zM357,491h1v3h-1zM358,491h1v4h-1zM359,491h1v3h-1zM360,492h1v4h-1zM361,492h1v3h-1zM362,492h1v3h-1zM363,491h1v3h-1zM364,491h1v3h-1zM365,491h1v4h-1zM366,491h1v3h-1zM367,491h1v3h-1zM368,491h1v3h-1zM369,492h1v4h-1zM370,492h1v3h-1zM371,491h1v3h-1zM372,491h1v3h-1zM399,490h1v4h-1zM400,490h1v3h-1zM401,490h1v3h-1zM402,490h1v3h-1zM403,490h1v3h-1zM404,490h1v3h-1zM405,490h1v3h-1zM406,489h1v3h-1zM407,489h1v3h-1zM408,490h1v3h-1zM409,490h1v3h-1zM410,490h1v3h-1zM411,490h1v3h-1zM412,489h1v3h-1zM413,489h1v3h-1zM414,489h1v3h-1zM415,489h1v3h-1zM416,489h1v3h-1zM417,489h1v3h-1zM418,489h1v3h-1zM419,489h1v4h-1zM420,490h1v3h-1zM421,490h1v3h-1zM422,490h1v3h-1zM423,490h1v3h-1zM424,489h1v3h-1zM425,490h1v3h-1zM426,489h1v3h-1zM427,489h1v4h-1zM428,489h1v3h-1zM429,490h1v3h-1zM430,490h1v3h-1zM431,490h1v3h-1zM432,489h1v3h-1zM433,489h1v3h-1zM434,489h1v4h-1zM435,489h1v3h-1zM436,490h1v3h-1zM437,490h1v3h-1zM438,489h1v4h-1zM439,489h1v3h-1zM440,489h1v3h-1zM441,489h1v3h-1zM442,489h1v3h-1zM443,489h1v3h-1zM444,489h1v3h-1zM445,489h1v3h-1zM446,490h1v3h-1zM447,490h1v3h-1zM448,490h1v3h-1zM449,489h1v3h-1zM450,489h1v3h-1zM451,489h1v3h-1zM452,490h1v3h-1zM453,490h1v3h-1zM454,490h1v4h-1zM455,490h1v3h-1zM456,490h1v3h-1zM457,490h1v3h-1zM458,490h1v4h-1zM459,489h1v3h-1zM460,489h1v3h-1zM461,490h1v3h-1zM462,490h1v3h-1zM463,490h1v3h-1zM464,490h1v3h-1zM465,490h1v3h-1zM466,490h1v3h-1zM467,490h1v3h-1zM468,490h1v3h-1zM469,490h1v3h-1zM470,490h1v3h-1zM471,490h1v3h-1zM472,490h1v3h-1zM473,491h1v3h-1zM474,490h1v3h-1zM475,490h1v3h-1zM476,490h1v4h-1zM477,491h1v3h-1zM478,491h1v3h-1zM479,491h1v3h-1zM480,491h1v3h-1zM481,491h1v3h-1zM482,491h1v3h-1zM483,491h1v3h-1zM484,491h1v3h-1zM485,491h1v3h-1zM486,491h1v3h-1zM487,491h1v3h-1zM488,491h1v4h-1zM489,491h1v3h-1zM490,491h1v3h-1zM491,490h1v3h-1zM492,490h1v3h-1zM493,490h1v3h-1zM494,490h1v3h-1zM495,490h1v4h-1zM496,490h1v4h-1zM497,490h1v3h-1zM498,490h1v3h-1zM499,490h1v3h-1zM500,488h1v3h-1zM501,488h1v3h-1zM502,488h1v3h-1zM503,488h1v3h-1zM504,488h1v3h-1zM505,488h1v3h-1zM506,488h1v3h-1zM507,488h1v3h-1zM508,490h1v3h-1zM509,489h1v3h-1zM510,489h1v4h-1zM511,489h1v3h-1zM512,489h1v3h-1zM513,489h1v4h-1zM514,490h1v3h-1zM515,490h1v3h-1zM516,490h1v3h-1zM517,490h1v3h-1zM518,490h1v3h-1zM519,490h1v3h-1zM520,489h1v3h-1zM521,490h1v3h-1zM522,490h1v3h-1zM523,490h1v3h-1zM524,490h1v4h-1zM525,491h1v3h-1zM526,491h1v3h-1zM527,491h1v3h-1zM528,492h1v3h-1zM529,492h1v3h-1zM530,492h1v3h-1zM531,491h1v3h-1zM532,492h1v3h-1zM533,491h1v3h-1zM534,491h1v3h-1zM535,491h1v3h-1zM536,490h1v3h-1zM537,490h1v4h-1zM538,491h1v3h-1zM539,491h1v3h-1zM540,490h1v4h-1zM541,490h1v3h-1zM542,491h1v3h-1zM543,490h1v3h-1zM544,490h1v3h-1zM545,491h1v4h-1zM546,491h1v3h-1zM547,491h1v3h-1zM548,491h1v3h-1zM549,491h1v3h-1zM550,491h1v3h-1zM551,491h1v3h-1zM552,491h1v3h-1zM553,491h1v3h-1zM554,491h1v3h-1zM555,491h1v3h-1zM556,491h1v3h-1zM557,492h1v3h-1zM558,492h1v3h-1zM559,492h1v3h-1zM560,491h1v3h-1zM561,491h1v3h-1zM562,491h1v3h-1zM563,491h1v3h-1zM564,491h1v3h-1zM565,491h1v3h-1zM566,491h1v3h-1zM567,491h1v3h-1zM568,491h1v3h-1zM569,491h1v4h-1zM570,491h1v3h-1zM571,490h1v3h-1zM572,490h1v3h-1zM573,490h1v4h-1zM574,491h1v3h-1zM575,491h1v3h-1zM576,490h1v3h-1zM577,490h1v3h-1zM578,490h1v3h-1zM579,491h1v3h-1zM580,491h1v3h-1zM581,491h1v3h-1zM582,491h1v3h-1zM583,491h1v4h-1zM584,491h1v3h-1zM585,490h1v3h-1zM586,490h1v3h-1zM587,490h1v4h-1zM588,490h1v3h-1zM589,490h1v3h-1zM590,490h1v3h-1zM591,490h1v4h-1zM592,490h1v3h-1zM593,490h1v3h-1zM594,490h1v4h-1zM595,490h1v3h-1zM596,490h1v3h-1zM597,490h1v4h-1zM598,490h1v4h-1zM599,490h1v3h-1zM600,490h1v3h-1zM601,490h1v3h-1zM602,490h1v3h-1zM603,489h1v3h-1zM604,489h1v3h-1zM605,489h1v3h-1zM606,489h1v3h-1zM607,488h1v3h-1zM608,488h1v4h-1zM609,489h1v3h-1zM610,489h1v3h-1zM611,489h1v3h-1zM612,489h1v3h-1zM613,489h1v3h-1zM614,489h1v3h-1zM615,489h1v3h-1zM616,489h1v4h-1zM617,489h1v3h-1zM618,489h1v3h-1zM619,489h1v3h-1zM620,490h1v3h-1zM621,490h1v3h-1zM622,490h1v3h-1zM623,489h1v3h-1zM624,490h1v3h-1zM625,490h1v4h-1zM626,491h1v3h-1zM627,490h1v3h-1zM628,490h1v3h-1zM629,490h1v3h-1zM630,490h1v4h-1zM631,490h1v3h-1zM632,490h1v4h-1zM633,490h1v3h-1zM634,490h1v3h-1zM635,490h1v4h-1zM636,490h1v3h-1zM637,490h1v3h-1zM638,490h1v3h-1zM639,490h1v3h-1zM640,489h1v3h-1zM641,489h1v3h-1zM642,489h1v3h-1zM643,489h1v4h-1zM644,489h1v3h-1zM645,490h1v4h-1zM646,490h1v3h-1zM647,490h1v3h-1zM648,490h1v4h-1zM649,490h1v3h-1zM650,490h1v3h-1zM651,490h1v3h-1zM652,490h1v3h-1zM653,490h1v3h-1zM654,490h1v4h-1zM655,491h1v3h-1zM656,490h1v3h-1zM657,490h1v3h-1zM658,490h1v4h-1zM659,491h1v3h-1zM660,491h1v4h-1zM661,491h1v3h-1zM662,491h1v3h-1z"/><rect x="324" y="481" width="2" height="2" fill="#c0c0c0"/>
</g>
<polyline fill="none" stroke="#000" stroke-width="3" stroke-linejoin="round" points="143,222 149,208.5 160,208.5 165,201.5 223.5,201.5 228,194.5 358,194.5 362,187.5 374,187.5"/><polyline fill="none" stroke="#000" stroke-width="1.4" stroke-dasharray="2.5 1" points="105.6,363.5 108,353 111,335 114,320 120,296 127.5,278 135,254 143,222"/><polyline fill="none" stroke="#000" stroke-width="3" stroke-linejoin="round" points="394,187.5 476,187.5 483,180.5 661,180.5"/><path d="M661,180v12M660,190h4" stroke="#000" stroke-width="1" fill="none"/><path shape-rendering="crispEdges" fill="#000" d="M98,417h5v1h-5zM100,415h1v5h-1zM99,419h1v1h-1zM98,420h1v1h-1z"/><polyline fill="none" stroke="#000" stroke-width="1.2" stroke-dasharray="2 1" points="695,462 698,474 702,490"/><path shape-rendering="crispEdges" fill="#000" d="M687,425h5v1h-5zM689,423h1v5h-1z"/>
<g shape-rendering="crispEdges"><rect x="202" y="36" width="1" height="459" fill="#fff"/><rect x="259" y="36" width="6" height="459" fill="#fff"/><rect x="321" y="36" width="2" height="459" fill="#fff"/><rect x="336" y="36" width="2" height="459" fill="#fff"/><rect x="401" y="36" width="3" height="459" fill="#fff"/><rect x="433" y="36" width="2" height="459" fill="#fff"/><rect x="450" y="36" width="4" height="459" fill="#fff"/><rect x="465" y="36" width="3" height="459" fill="#fff"/><rect x="493" y="36" width="3" height="459" fill="#fff"/><rect x="540" y="36" width="4" height="459" fill="#fff"/><rect x="566" y="36" width="1" height="459" fill="#fff"/><rect x="615" y="36" width="1" height="459" fill="#fff"/><rect x="624" y="36" width="2" height="459" fill="#fff"/></g>
<g shape-rendering="crispEdges">
<rect x="63" y="34" width="642" height="2" fill="#000"/><rect x="63" y="495" width="642" height="2" fill="#000"/><rect x="63" y="34" width="2" height="463" fill="#000"/><rect x="703" y="34" width="2" height="463" fill="#000"/><rect x="120" y="36" width="1" height="12" fill="#000"/><rect x="120" y="484" width="1" height="11" fill="#000"/><rect x="175" y="36" width="1" height="12" fill="#000"/><rect x="175" y="484" width="1" height="11" fill="#000"/><rect x="231" y="36" width="1" height="12" fill="#000"/><rect x="231" y="484" width="1" height="11" fill="#000"/><rect x="287" y="36" width="1" height="12" fill="#000"/><rect x="287" y="484" width="1" height="11" fill="#000"/><rect x="342" y="36" width="1" height="12" fill="#000"/><rect x="342" y="484" width="1" height="11" fill="#000"/><rect x="398" y="36" width="1" height="12" fill="#000"/><rect x="398" y="484" width="1" height="11" fill="#000"/><rect x="454" y="36" width="1" height="12" fill="#000"/><rect x="454" y="484" width="1" height="11" fill="#000"/><rect x="509" y="36" width="1" height="12" fill="#000"/><rect x="509" y="484" width="1" height="11" fill="#000"/><rect x="565" y="36" width="1" height="12" fill="#000"/><rect x="565" y="484" width="1" height="11" fill="#000"/><rect x="621" y="36" width="1" height="12" fill="#000"/><rect x="621" y="484" width="1" height="11" fill="#000"/><rect x="676" y="36" width="1" height="12" fill="#000"/><rect x="676" y="484" width="1" height="11" fill="#000"/><rect x="65" y="473" width="5" height="1" fill="#000"/><rect x="65" y="450" width="12" height="1" fill="#000"/><rect x="65" y="427" width="5" height="1" fill="#000"/><rect x="65" y="404" width="12" height="1" fill="#000"/><rect x="65" y="381" width="5" height="1" fill="#000"/><rect x="65" y="358" width="12" height="1" fill="#000"/><rect x="65" y="335" width="5" height="1" fill="#000"/><rect x="65" y="312" width="12" height="1" fill="#000"/><rect x="65" y="288" width="5" height="1" fill="#000"/><rect x="65" y="265" width="12" height="1" fill="#000"/><rect x="65" y="242" width="5" height="1" fill="#000"/><rect x="65" y="219" width="12" height="1" fill="#000"/><rect x="65" y="196" width="5" height="1" fill="#000"/><rect x="65" y="173" width="12" height="1" fill="#000"/><rect x="65" y="150" width="5" height="1" fill="#000"/><rect x="65" y="127" width="12" height="1" fill="#000"/><rect x="65" y="104" width="5" height="1" fill="#000"/><rect x="65" y="81" width="12" height="1" fill="#000"/><rect x="65" y="58" width="5" height="1" fill="#000"/><rect x="698" y="461" width="5" height="1" fill="#000"/><rect x="691" y="426" width="12" height="1" fill="#000"/><rect x="698" y="391" width="5" height="1" fill="#000"/><rect x="691" y="355" width="12" height="1" fill="#000"/><rect x="698" y="320" width="5" height="1" fill="#000"/><rect x="691" y="285" width="12" height="1" fill="#000"/><rect x="698" y="250" width="5" height="1" fill="#000"/><rect x="691" y="215" width="12" height="1" fill="#000"/><rect x="698" y="180" width="5" height="1" fill="#000"/><rect x="691" y="145" width="12" height="1" fill="#000"/><rect x="698" y="109" width="5" height="1" fill="#000"/><rect x="691" y="74" width="12" height="1" fill="#000"/><rect x="698" y="39" width="5" height="1" fill="#000"/>
<rect x="742" y="35" width="13" height="19" fill="#400000"/><rect x="742" y="54" width="13" height="19" fill="#800000"/><rect x="742" y="73" width="13" height="18" fill="#c00000"/><rect x="742" y="91" width="13" height="22" fill="#ff0000"/><rect x="742" y="113" width="13" height="18" fill="#ff4000"/><rect x="742" y="131" width="13" height="18" fill="#ff8000"/><rect x="742" y="149" width="13" height="19" fill="#ffc000"/><rect x="742" y="168" width="13" height="21" fill="#ffff00"/><rect x="742" y="189" width="13" height="19" fill="#c0ff00"/><rect x="742" y="208" width="13" height="18" fill="#80ff00"/><rect x="742" y="226" width="13" height="19" fill="#40ff00"/><rect x="742" y="245" width="13" height="21" fill="#00ff00"/><rect x="742" y="266" width="13" height="19" fill="#00ff40"/><rect x="742" y="285" width="13" height="19" fill="#00ff80"/><rect x="742" y="304" width="13" height="18" fill="#00ffc0"/><rect x="742" y="322" width="13" height="21" fill="#00ffff"/><rect x="742" y="343" width="13" height="19" fill="#00c0ff"/><rect x="742" y="362" width="13" height="18" fill="#0080ff"/><rect x="742" y="380" width="13" height="19" fill="#0040ff"/><rect x="742" y="399" width="13" height="21" fill="#0000ff"/><rect x="742" y="420" width="13" height="19" fill="#0000c0"/><rect x="742" y="439" width="13" height="18" fill="#000080"/><rect x="742" y="457" width="13" height="19" fill="#000040"/><rect x="742" y="476" width="13" height="21" fill="#000000"/>
</g>
<text x="47.1" y="500.8" font-size="16" text-anchor="middle" font-weight="normal" >0</text>
<text x="47.1" y="454.7" font-size="16" text-anchor="middle" font-weight="normal" >2</text>
<text x="47.1" y="408.6" font-size="16" text-anchor="middle" font-weight="normal" >4</text>
<text x="47.1" y="362.5" font-size="16" text-anchor="middle" font-weight="normal" >6</text>
<text x="47.1" y="316.4" font-size="16" text-anchor="middle" font-weight="normal" >8</text>
<text x="48.4" y="270.3" font-size="16" text-anchor="middle" font-weight="normal" >10</text>
<text x="48.4" y="224.2" font-size="16" text-anchor="middle" font-weight="normal" >12</text>
<text x="48.4" y="178.1" font-size="16" text-anchor="middle" font-weight="normal" >14</text>
<text x="48.4" y="132.0" font-size="16" text-anchor="middle" font-weight="normal" >16</text>
<text x="48.4" y="85.9" font-size="16" text-anchor="middle" font-weight="normal" >18</text>
<text x="48.4" y="39.8" font-size="16" text-anchor="middle" font-weight="normal" >20</text>
<text x="718.2" y="500.8" font-size="16" text-anchor="middle" font-weight="normal" >0</text>
<text x="718.2" y="430.5" font-size="16" text-anchor="middle" font-weight="normal" >10</text>
<text x="718.2" y="360.3" font-size="16" text-anchor="middle" font-weight="normal" >20</text>
<text x="718.2" y="290.0" font-size="16" text-anchor="middle" font-weight="normal" >30</text>
<text x="718.2" y="219.8" font-size="16" text-anchor="middle" font-weight="normal" >40</text>
<text x="718.2" y="149.5" font-size="16" text-anchor="middle" font-weight="normal" >50</text>
<text x="718.2" y="79.3" font-size="16" text-anchor="middle" font-weight="normal" >60</text>
<text x="64.0" y="521" font-size="16" text-anchor="middle" font-weight="normal" >35</text>
<text x="175.3" y="521" font-size="16" text-anchor="middle" font-weight="normal" >39</text>
<text x="286.6" y="521" font-size="16" text-anchor="middle" font-weight="normal" >43</text>
<text x="398.0" y="521" font-size="16" text-anchor="middle" font-weight="normal" >47</text>
<text x="509.3" y="521" font-size="16" text-anchor="middle" font-weight="normal" >51</text>
<text x="620.6" y="521" font-size="16" text-anchor="middle" font-weight="normal" >55</text>
<text x="63.7" y="28.75" font-size="16" text-anchor="start" font-weight="bold" textLength="29.6" lengthAdjust="spacing">JPL</text>
<text x="98.7" y="28.75" font-size="16" text-anchor="start" font-weight="bold" textLength="80.7" lengthAdjust="spacing">Microwave</text>
<text x="183.9" y="28.75" font-size="16" text-anchor="start" font-weight="bold" textLength="97.6" lengthAdjust="spacing">Temperature</text>
<text x="286.4" y="28.75" font-size="16" text-anchor="start" font-weight="bold" textLength="52.2" lengthAdjust="spacing">Profiler</text>
<text x="344.4" y="28.75" font-size="16" text-anchor="start" font-weight="bold" textLength="43.6" lengthAdjust="spacing">(MTP)</text>
<text x="459.9" y="28.75" font-size="16" text-anchor="start" font-weight="bold" textLength="72.6" lengthAdjust="spacing">PREDICT</text>
<text x="540.4" y="28.75" font-size="16" text-anchor="start" font-weight="bold" textLength="41.7" lengthAdjust="spacing">Flight</text>
<text x="587.9" y="28.75" font-size="16" text-anchor="start" font-weight="bold" textLength="40.1" lengthAdjust="spacing">Date:</text>
<text x="631.8" y="28.75" font-size="16" text-anchor="start" font-weight="bold" textLength="71.9" lengthAdjust="spacing">20100913</text>
<text x="309.0" y="539.8" font-size="16" text-anchor="start" font-weight="bold" textLength="72.5" lengthAdjust="spacing">Universal</text>
<text x="388.2" y="539.8" font-size="16" text-anchor="start" font-weight="bold" textLength="35.3" lengthAdjust="spacing">Time</text>
<text x="430.5" y="539.8" font-size="16" text-anchor="start" font-weight="bold" textLength="27.4" lengthAdjust="spacing">[ks]</text>
<text x="157.1" y="572.5" font-size="16" text-anchor="start" font-weight="normal" textLength="60.6" lengthAdjust="spacing">Principal</text>
<text x="221.1" y="572.5" font-size="16" text-anchor="start" font-weight="normal" textLength="82.8" lengthAdjust="spacing">Investigator:</text>
<text x="308.9" y="572.5" font-size="16" text-anchor="start" font-weight="normal" textLength="21.1" lengthAdjust="spacing">MJ</text>
<text x="334.2" y="572.5" font-size="16" text-anchor="start" font-weight="normal" textLength="62.6" lengthAdjust="spacing">Mahoney</text>
<text x="401.0" y="572.5" font-size="16" text-anchor="start" font-weight="normal" textLength="241.2" lengthAdjust="spacing">(Michael.J.Mahoney@jpl.nasa.gov)</text>
<text x="35" y="540" font-size="16" text-anchor="start" font-weight="bold" textLength="21.5" lengthAdjust="spacingAndGlyphs">km</text>
<text x="714" y="540" font-size="16" text-anchor="start" font-weight="bold" textLength="18" lengthAdjust="spacingAndGlyphs">kft</text>
<text x="760.5" y="540" font-size="16" text-anchor="start" font-weight="bold" textLength="28.5" lengthAdjust="spacingAndGlyphs">T[K]</text>
<text x="8.2" y="594" font-size="16" text-anchor="start" font-weight="normal" textLength="191" lengthAdjust="spacing">Flight: 2010 09 13 00:00:00</text>
<text x="211.9" y="594" font-size="16" text-anchor="start" font-weight="normal" textLength="219.6" lengthAdjust="spacing">Retrieved: 2011 05 24 13:15:24</text>
<text x="445.5" y="594" font-size="16" text-anchor="start" font-weight="normal" textLength="202.3" lengthAdjust="spacing">Editted: 2011 05 24 13:15:56</text>
<text x="657.4" y="594" font-size="16" text-anchor="start" font-weight="normal" textLength="136.2" lengthAdjust="spacing">Plotted: 2011 05 26</text>
<text x="797.3" y="594" font-size="16" text-anchor="start" font-weight="normal" >13</text>
<text transform="translate(23.5,367.6) rotate(-90)" font-size="19" textLength="146" lengthAdjust="spacing">Pressure Altitude</text>
<text x="758.3" y="41.1" font-size="16" text-anchor="start" font-weight="normal" >320</text>
<text x="758.3" y="71.8" font-size="16" text-anchor="start" font-weight="normal" >310</text>
<text x="758.3" y="102.4" font-size="16" text-anchor="start" font-weight="normal" >300</text>
<text x="758.3" y="133.0" font-size="16" text-anchor="start" font-weight="normal" >290</text>
<text x="758.3" y="163.7" font-size="16" text-anchor="start" font-weight="normal" >280</text>
<text x="758.3" y="194.3" font-size="16" text-anchor="start" font-weight="normal" >270</text>
<text x="758.3" y="225.0" font-size="16" text-anchor="start" font-weight="normal" >260</text>
<text x="758.3" y="255.6" font-size="16" text-anchor="start" font-weight="normal" >250</text>
<text x="758.3" y="286.3" font-size="16" text-anchor="start" font-weight="normal" >240</text>
<text x="758.3" y="316.9" font-size="16" text-anchor="start" font-weight="normal" >230</text>
<text x="758.3" y="347.6" font-size="16" text-anchor="start" font-weight="normal" >220</text>
<text x="758.3" y="378.2" font-size="16" text-anchor="start" font-weight="normal" >210</text>
<text x="758.3" y="408.9" font-size="16" text-anchor="start" font-weight="normal" >200</text>
<text x="758.3" y="439.6" font-size="16" text-anchor="start" font-weight="normal" >190</text>
<text x="758.3" y="470.2" font-size="16" text-anchor="start" font-weight="normal" >180</text>
<text x="758.3" y="500.9" font-size="16" text-anchor="start" font-weight="normal" >170</text>
</svg>
</body></html>
